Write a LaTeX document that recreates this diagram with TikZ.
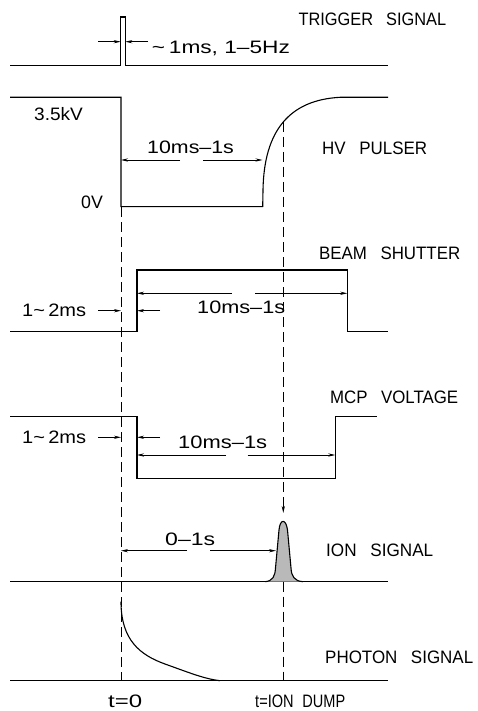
\documentclass[tikz,border=0pt]{standalone}
\usepackage{fontspec}
\setmainfont{Liberation Sans}
\usetikzlibrary{arrows.meta}
\newcommand{\fitw}[2]{\resizebox{#1pt}{\height}{#2}}
\begin{document}
\begin{tikzpicture}[x=1pt,y=-1pt,
  wave/.style={line width=1.1pt, line join=miter},
  guide/.style={line width=0.9pt, dash pattern=on 10pt off 5pt},
  dim/.style={line width=0.8pt, -{Stealth[length=7pt,width=3.2pt]}},
  lbl/.style={inner sep=0pt, anchor=base west, font=\fontsize{18}{21}\selectfont}]
\useasboundingbox (0,0) rectangle (477,711);

% ---------- waveforms ----------
% trigger
\draw[wave] (10,65.5) -- (120.7,65.5) -- (120.7,17) -- (125.3,17) -- (125.3,65.5) -- (388,65.5);
% HV pulser
\draw[wave] (10,97.3) -- (121,97.3) -- (121,206.7) -- (262.7,206.7) -- (263,190)
  .. controls (264,130) and (290,100) .. (340,97.3) -- (388,97.3);
% beam shutter
\draw[wave] (10,331.7) -- (137,331.7) -- (137,270) -- (347.3,270) -- (347.3,331.7) -- (388,331.7);
% MCP voltage
\draw[wave] (10,416.7) -- (137,416.7) -- (137,478.5) -- (335.3,478.5) -- (335.3,416.7) -- (376.7,416.7);
% ion signal
\draw[wave] (10,581.7) -- (388,581.7);
\draw[wave, fill=gray!55] (265,581.7) .. controls (273,581) and (275,576) .. (275.5,568)
  -- (279,530) .. controls (280,518.5) and (286,518.5) .. (287.5,530)
  -- (291,568) .. controls (291.5,576) and (294,581) .. (303,581.7);
% photon signal
\draw[wave] (10,680.7) -- (388,680.7);
\draw[wave] (121,601.7) .. controls (121,640) and (140,655) .. (165,664)
  .. controls (190,673) and (205,679) .. (220,680.7);

% ---------- guide lines ----------
\draw[guide] (121,207) -- (121,680.7);
\draw[guide] (283.3,122) -- (283.3,500);
\draw[line width=0.9pt, -{Stealth[length=7pt,width=3.2pt]}] (283.3,500) -- (283.3,513);
\draw[guide] (283.3,581.7) -- (283.3,680.7);

% ---------- dimension arrows ----------
\draw[dim] (98,41.7) -- (120.7,41.7);
\draw[dim] (148,41.7) -- (125.3,41.7);
\draw[dim] (180,160) -- (121,160);
\draw[dim] (203,160) -- (262.5,160);
\draw[dim] (231.7,293.3) -- (137,293.3);
\draw[dim] (255,293.3) -- (347.3,293.3);
\draw[dim] (98,310.7) -- (121,310.7);
\draw[dim] (160,310.7) -- (137,310.7);
\draw[dim] (98,437.3) -- (121,437.3);
\draw[dim] (160,437.3) -- (137,437.3);
\draw[dim] (226,455) -- (137,455);
\draw[dim] (247.7,455) -- (335.3,455);
\draw[dim] (187,550.7) -- (121,550.7);
\draw[dim] (210,550.7) -- (276,550.7);

% ---------- labels ----------
\node[lbl] (trig) at (298.3,25.7) {\fitw{147.7}{TRIGGER\hspace{0.8em}SIGNAL}};
\node[lbl] (trigw) at (151.7,54) {\fitw{138}{\textasciitilde\,1ms,\ 1–5Hz}};
\node[lbl] (hvhi) at (34,120.7) {\fitw{48.7}{3.5kV}};
\node[lbl] (hvlo) at (81,208.3) {\fitw{21.7}{0V}};
\node[lbl] (hvt) at (147,153.3) {\fitw{86.7}{10ms–1s}};
\node[lbl] (hv) at (322,155) {\fitw{105}{HV\hspace{0.8em}PULSER}};
\node[lbl] (bs) at (319,259.3) {\fitw{141}{BEAM\hspace{0.8em}SHUTTER}};
\node[lbl] (bsd) at (22,316.7) {\fitw{64}{1\textasciitilde\,2ms}};
\node[lbl] (bst) at (197,313.3) {\fitw{88}{10ms–1s}};
\node[lbl] (mcp) at (330,403.3) {\fitw{128}{MCP\hspace{0.8em}VOLTAGE}};
\node[lbl] (mcpd) at (22,443.3) {\fitw{64}{1\textasciitilde\,2ms}};
\node[lbl] (mcpt) at (178,448.3) {\fitw{89}{10ms–1s}};
\node[lbl] (iont) at (165,545) {\fitw{50}{0–1s}};
\node[lbl] (ion) at (326,556.7) {\fitw{107}{ION\hspace{0.8em}SIGNAL}};
\node[lbl] (ph) at (325,663.3) {\fitw{148}{PHOTON\hspace{0.8em}SIGNAL}};
\node[lbl] (t0) at (108,707) {\fitw{34}{t=0}};
\node[lbl] (tdump) at (255,707) {\fitw{90}{t=ION\hspace{0.6em}DUMP}};
\end{tikzpicture}
\end{document}
